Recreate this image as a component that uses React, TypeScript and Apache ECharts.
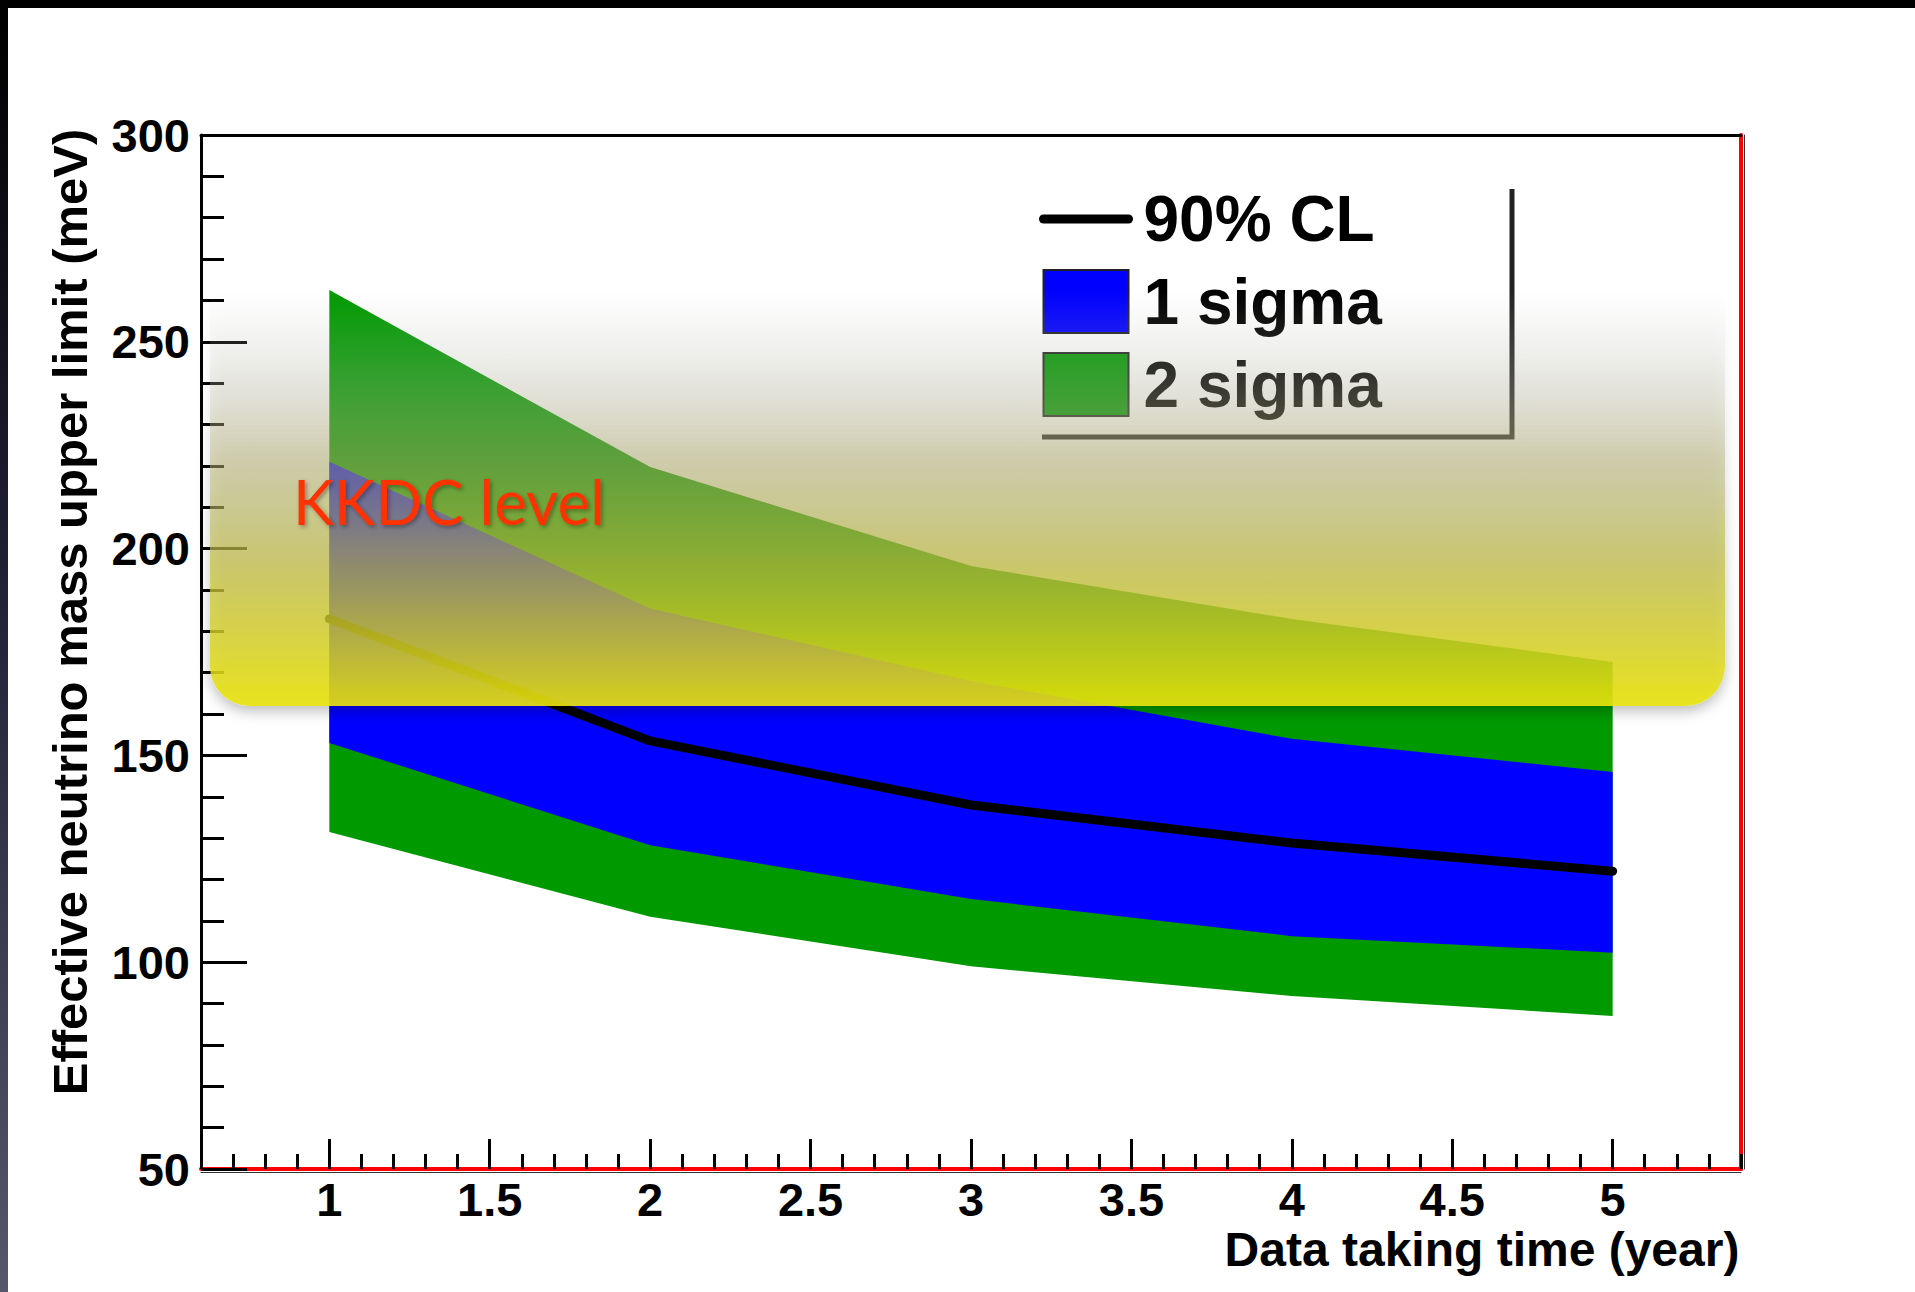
import React, { useEffect, useRef } from "react";
import * as echarts from "echarts";

// ---- data ----
const years = [1, 2, 3, 4, 5];
const cl90 = [183, 153.5, 138, 128.8, 122];
const sigma1Upper = [221, 185.5, 168, 154, 146];
const sigma1Lower = [153, 128.3, 115.3, 106.3, 102.3];
const sigma2Upper = [262.5, 219.7, 195.8, 183, 172.6];
const sigma2Lower = [131.5, 111, 99, 91.8, 87];
const xMajorTicks = [1, 1.5, 2, 2.5, 3, 3.5, 4, 4.5, 5];
const seriesNames = ["90% CL", "1 sigma", "2 sigma"];
const xTitle = "Data taking time (year)";
const yTitle = "Effective neutrino mass upper limit (meV)";
const annotation = "KKDC level";

const FONT = "'Liberation Sans', Arial, Helvetica, sans-serif";
const GREEN = "#009900";
const BLUE = "#0000ff";

function bandRenderer(upper: number[], lower: number[], color: string) {
  return (params: any, api: any) => {
    if (params.dataIndex !== 0) return null;
    const top = years.map((x, i) => api.coord([x, upper[i]]));
    const bottom = years.map((x, i) => api.coord([x, lower[i]])).reverse();
    return {
      type: "polygon",
      shape: { points: top.concat(bottom) },
      style: { fill: color },
    };
  };
}

const X_MIN = 0.6;
const X_MAX = 5.4;
const Y_MIN = 50;
const Y_MAX = 300;

export default function App() {
  const ref = useRef<HTMLDivElement>(null);
  useEffect(() => {
    const chart = echarts.init(ref.current as HTMLDivElement, null, { renderer: "svg" });
    const option: any = {
      animation: false,
      backgroundColor: "#ffffff",
      grid: { left: 201, top: 135, width: 1540, height: 1034, outerBoundsMode: "none", containLabel: false },
      legend: {
        orient: "vertical",
        left: 1039,
        top: 187,
        padding: 0,
        itemWidth: 85,
        itemHeight: 63,
        itemGap: 18,
        selectedMode: false,
        textStyle: {
          fontFamily: FONT,
          fontSize: 64,
          fontWeight: "bold",
          color: "#000",
          lineHeight: 64,
          padding: [0, 0, 0, 10],
        },
        data: [
          { name: seriesNames[0], lineStyle: { width: 9, color: "#000" }, itemStyle: { opacity: 0 } },
          { name: seriesNames[1], icon: "rect", itemStyle: { color: BLUE, borderColor: "#222", borderWidth: 2 } },
          { name: seriesNames[2], icon: "rect", itemStyle: { color: GREEN, borderColor: "#222", borderWidth: 2 } },
        ],
      },
      xAxis: [
        {
          type: "value",
          min: X_MIN,
          max: X_MAX,
          position: "bottom",
          name: xTitle,
          nameLocation: "middle",
          nameGap: 56,
          nameMoveOverlap: false,
          nameTextStyle: {
            fontFamily: FONT,
            fontSize: 48,
            fontWeight: "bold",
            color: "#000",
            lineHeight: 48,
            padding: [0, 0, 0, 1022],
          },
          axisLine: { show: true, onZero: false, lineStyle: { color: "#ff0000", width: 4 } },
          axisTick: { show: true, inside: true, length: 30, customValues: xMajorTicks, lineStyle: { color: "#000", width: 3 } },
          axisLabel: {
            show: true,
            customValues: xMajorTicks,
            formatter: (v: number) => String(v),
            margin: 7,
            lineHeight: 47,
            fontFamily: FONT,
            fontSize: 47,
            fontWeight: "bold",
            color: "#000",
          },
          splitLine: { show: false },
        },
        {
          type: "value",
          min: X_MIN,
          max: X_MAX,
          interval: 0.1,
          position: "bottom",
          axisLine: { show: false, onZero: false },
          axisTick: { show: true, inside: true, length: 15, lineStyle: { color: "#000", width: 3 } },
          axisLabel: { show: false },
          splitLine: { show: false },
        },
        {
          type: "value",
          min: X_MIN,
          max: X_MAX,
          position: "top",
          axisLine: { show: true, onZero: false, lineStyle: { color: "#000", width: 3 } },
          axisTick: { show: false },
          axisLabel: { show: false },
          splitLine: { show: false },
        },
        {
          type: "value",
          min: X_MIN,
          max: X_MAX,
          position: "bottom",
          offset: 3,
          axisLine: { show: true, onZero: false, lineStyle: { color: "#333", width: 1 } },
          axisTick: { show: false },
          axisLabel: { show: false },
          splitLine: { show: false },
        },
      ],
      yAxis: [
        {
          type: "value",
          min: Y_MIN,
          max: Y_MAX,
          interval: 50,
          position: "left",
          name: yTitle,
          nameLocation: "middle",
          nameRotate: 90,
          nameGap: 107,
          nameMoveOverlap: false,
          nameTextStyle: {
            fontFamily: FONT,
            fontSize: 49,
            fontWeight: "bold",
            color: "#000",
            lineHeight: 49,
            padding: [0, 0, 0, 80],
          },
          axisLine: { show: true, onZero: false, lineStyle: { color: "#000", width: 3 } },
          axisTick: { show: true, inside: true, length: 46, lineStyle: { color: "#000", width: 3 } },
          minorTick: { show: true, splitNumber: 5, length: 23, lineStyle: { color: "#000", width: 3 } },
          axisLabel: {
            show: true,
            margin: 11,
            fontFamily: FONT,
            fontSize: 47,
            fontWeight: "bold",
            color: "#000",
          },
          splitLine: { show: false },
        },
        {
          type: "value",
          min: Y_MIN,
          max: Y_MAX,
          position: "right",
          axisLine: { show: true, onZero: false, lineStyle: { color: "#ff0000", width: 4 } },
          axisTick: { show: false },
          axisLabel: { show: false },
          splitLine: { show: false },
        },
        {
          type: "value",
          min: Y_MIN,
          max: Y_MAX,
          position: "right",
          offset: 3,
          axisLine: { show: true, onZero: false, lineStyle: { color: "#333", width: 1 } },
          axisTick: { show: false },
          axisLabel: { show: false },
          splitLine: { show: false },
        },
      ],
      series: [
        {
          type: "custom",
          name: seriesNames[2],
          xAxisIndex: 0,
          yAxisIndex: 0,
          z: 2,
          silent: true,
          itemStyle: { color: GREEN },
          renderItem: bandRenderer(sigma2Upper, sigma2Lower, GREEN),
          data: [[years[0], sigma2Upper[0]]],
        },
        {
          type: "custom",
          name: seriesNames[1],
          xAxisIndex: 0,
          yAxisIndex: 0,
          z: 3,
          silent: true,
          itemStyle: { color: BLUE },
          renderItem: bandRenderer(sigma1Upper, sigma1Lower, BLUE),
          data: [[years[0], sigma1Upper[0]]],
        },
        {
          type: "line",
          name: seriesNames[0],
          xAxisIndex: 0,
          yAxisIndex: 0,
          z: 4,
          symbol: "none",
          silent: true,
          lineStyle: { color: "#000", width: 9, cap: "round" },
          itemStyle: { color: "#000" },
          data: years.map((x, i) => [x, cl90[i]]),
        },
      ],
      graphic: [
        // black frame of the slide
        { type: "rect", z: 1, silent: true, shape: { x: 0, y: 0, width: 1915, height: 8 }, style: { fill: "#000" } },
        {
          type: "rect",
          z: 1,
          silent: true,
          shape: { x: 0, y: 0, width: 8, height: 1292 },
          style: {
            fill: {
              type: "linear",
              x: 0,
              y: 0,
              x2: 0,
              y2: 1,
              colorStops: [
                { offset: 0, color: "#000000" },
                { offset: 0.5, color: "#25253d" },
                { offset: 1, color: "#56566c" },
              ],
            },
          },
        },
        // legend shadow border (ROOT style)
        {
          type: "polyline",
          z: 10,
          silent: true,
          shape: { points: [[1512, 189], [1512, 437], [1042, 437]] },
          style: { stroke: "#222", lineWidth: 5, fill: null },
        },
        // yellow translucent highlight box
        {
          type: "rect",
          z: 50,
          silent: true,
          shape: { x: 210, y: 290, width: 1515, height: 416, r: [0, 0, 40, 40] },
          style: {
            fill: {
              type: "linear",
              x: 0,
              y: 0,
              x2: 0,
              y2: 1,
              colorStops: [
                { offset: 0, color: "rgba(210,210,205,0)" },
                { offset: 0.15, color: "rgba(195,195,185,0.17)" },
                { offset: 0.4, color: "rgba(178,175,115,0.48)" },
                { offset: 0.65, color: "rgba(192,187,70,0.7)" },
                { offset: 1, color: "rgba(234,228,10,0.9)" },
              ],
            },
            shadowBlur: 14,
            shadowOffsetY: 5,
            shadowColor: "rgba(0,0,0,0.3)",
          },
        },
        {
          type: "text",
          z: 60,
          silent: true,
          x: 293,
          y: 501,
          style: {
            text: annotation,
            fontFamily: "Lato, 'Open Sans', sans-serif",
            fontSize: 62,
            fill: "#ff3000",
            verticalAlign: "middle",
            align: "left",
            textShadowColor: "rgba(0,0,0,0.35)",
            textShadowBlur: 4,
            textShadowOffsetX: 2,
            textShadowOffsetY: 2,
          },
        },
      ],
    };
    chart.setOption(option);
    return () => chart.dispose();
  }, []);
  return (
    <div
      ref={ref}
      style={{ position: "absolute", left: 0, top: 0, width: 1915, height: 1292 }}
    />
  );
}
